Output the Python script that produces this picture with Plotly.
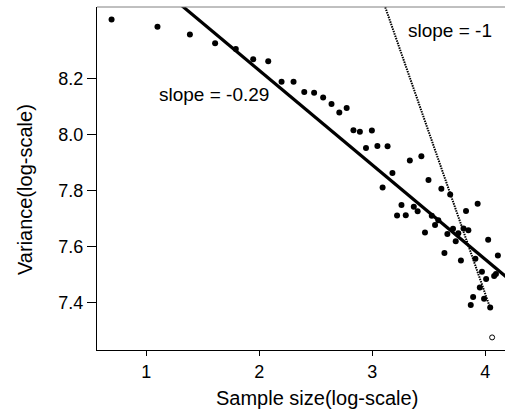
import plotly.graph_objects as go

# log sample size (x) and log variance (y)
x_vals = [0.693, 1.099, 1.386, 1.609, 1.792, 1.946, 2.079, 2.197, 2.303, 2.398,
          2.485, 2.565, 2.639, 2.708, 2.773, 2.833, 2.890, 2.944, 2.996, 3.045,
          3.091, 3.135, 3.178, 3.219, 3.258, 3.296, 3.332, 3.367, 3.401, 3.434,
          3.466, 3.497, 3.526, 3.555, 3.584, 3.611, 3.638, 3.664, 3.689, 3.714,
          3.738, 3.761, 3.784, 3.807, 3.829, 3.850, 3.871, 3.892, 3.912, 3.932,
          3.951, 3.970, 3.989, 4.007, 4.025, 4.043, 4.078, 4.094, 4.111]
y_vals = [8.411, 8.385, 8.358, 8.326, 8.306, 8.269, 8.262, 8.189, 8.189, 8.152,
          8.149, 8.132, 8.109, 8.079, 8.095, 8.015, 8.010, 7.952, 8.014, 7.959,
          7.810, 7.958, 7.862, 7.710, 7.748, 7.711, 7.907, 7.741, 7.725, 7.922,
          7.649, 7.837, 7.709, 7.676, 7.693, 7.806, 7.576, 7.644, 7.785, 7.663,
          7.618, 7.647, 7.549, 7.664, 7.726, 7.657, 7.390, 7.419, 7.555, 7.752,
          7.453, 7.509, 7.412, 7.483, 7.623, 7.381, 7.494, 7.501, 7.567]
outlier_x = [4.060]
outlier_y = [7.274]

# fitted line (solid) and reference line (dotted)
fit_x = [0.5, 4.3]
fit_intercept = 8.905
fit_slope = -0.338
fit_y = [fit_intercept + fit_slope * v for v in fit_x]
ref_x = [3.10, 4.042]
ref_y = [8.472, 7.380]

x_ticks = [1, 2, 3, 4]
y_ticks = [7.4, 7.6, 7.8, 8.0, 8.2]
x_range = [0.564, 4.174]
y_range = [7.229, 8.456]

FONT = "Liberation Sans, Arial, sans-serif"

fig = go.Figure()
fig.add_trace(go.Scatter(x=fit_x, y=fit_y, mode="lines",
                         line=dict(color="black", width=3.2), showlegend=False))
fig.add_trace(go.Scatter(x=ref_x, y=ref_y, mode="lines",
                         line=dict(color="black", width=2, dash="1.5px,1px"),
                         showlegend=False))
fig.add_trace(go.Scatter(x=x_vals, y=y_vals, mode="markers",
                         marker=dict(color="black", size=6, line=dict(width=0)),
                         showlegend=False))
fig.add_trace(go.Scatter(x=outlier_x, y=outlier_y, mode="markers",
                         marker=dict(symbol="circle-open", color="black", size=5,
                                     line=dict(width=1)),
                         showlegend=False))

fig.update_layout(
    width=505, height=417,
    margin=dict(l=97, r=0, t=7, b=66.5, autoexpand=False),
    plot_bgcolor="white", paper_bgcolor="white",
    font=dict(family=FONT, color="black", size=18),
    xaxis=dict(range=x_range, tickvals=x_ticks, ticks="outside", ticklen=5,
               tickcolor="black", showline=True, linecolor="black", linewidth=1,
               showgrid=False, zeroline=False, tickfont=dict(size=18),
               automargin=False),
    yaxis=dict(range=y_range, tickvals=y_ticks, tickformat=".1f", ticks="outside",
               ticklen=9, tickcolor="black", showline=True, linecolor="black",
               linewidth=1, showgrid=False, zeroline=False, tickfont=dict(size=18),
               automargin=False),
    shapes=[dict(type="line", xref="paper", yref="paper", x0=0, x1=1, y0=1, y1=1,
                 line=dict(color="#808080", width=1))],
    annotations=[
        dict(text="slope = -0.29", x=1.095, y=8.143, xref="x", yref="y",
             xanchor="left", yanchor="middle", showarrow=False, font=dict(size=19)),
        dict(text="slope = -1", x=3.296, y=8.372, xref="x", yref="y",
             xanchor="left", yanchor="middle", showarrow=False, font=dict(size=19)),
        dict(text="Sample size(log-scale)", x=0.539, y=-0.141, xref="paper",
             yref="paper", xanchor="center", yanchor="middle", showarrow=False,
             font=dict(size=20)),
        dict(text="Variance(log-scale)", x=-0.176, y=0.467, xref="paper",
             yref="paper", xanchor="center", yanchor="middle", showarrow=False,
             textangle=-90, font=dict(size=20)),
    ],
)

fig.write_html("out.html", config={"displayModeBar": False},
               post_script="document.body.style.margin='0px';document.body.style.overflow='hidden';")
